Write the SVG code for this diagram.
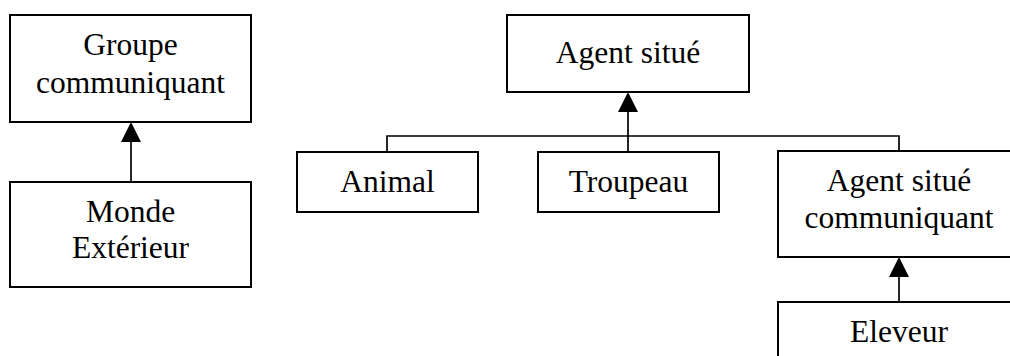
<svg xmlns="http://www.w3.org/2000/svg" width="1010" height="356" viewBox="0 0 1010 356">
  <style>
    .box { fill: #fff; stroke: #000; stroke-width: 2; }
    .lbl { font-family: "Liberation Serif", "Times New Roman", serif; font-size: 31.5px; fill: #000; text-anchor: middle; }
    .link { fill: none; stroke: #000; stroke-width: 1.7; }
    .head { fill: #000; stroke: none; }
  </style>
  <rect width="1010" height="356" fill="#fff"/>

  <!-- inheritance links -->
  <g id="connectors">
    <line class="link" x1="131" y1="182" x2="131" y2="140"/>
    <polygon class="head" points="131,122 121,142 141,142"/>

    <polyline class="link" points="387,152 387,136 899,136 899,151"/>
    <line class="link" x1="628" y1="152" x2="628" y2="110"/>
    <polygon class="head" points="628,92 618,112 638,112"/>

    <line class="link" x1="899" y1="302" x2="899" y2="275"/>
    <polygon class="head" points="899,257 889,277 909,277"/>
  </g>

  <g id="groupe-communiquant">
    <rect class="box" x="10" y="15" width="241" height="107"/>
    <text class="lbl" x="130.5" y="55">Groupe</text>
    <text class="lbl" x="130.5" y="93">communiquant</text>
  </g>

  <g id="monde-exterieur">
    <rect class="box" x="10" y="182" width="241" height="105"/>
    <text class="lbl" x="130.5" y="222">Monde</text>
    <text class="lbl" x="130.5" y="258">Extérieur</text>
  </g>

  <g id="agent-situe">
    <rect class="box" x="507" y="15" width="242" height="77"/>
    <text class="lbl" x="628" y="63">Agent situé</text>
  </g>

  <g id="animal">
    <rect class="box" x="297" y="152" width="181" height="60"/>
    <text class="lbl" x="387.5" y="192">Animal</text>
  </g>

  <g id="troupeau">
    <rect class="box" x="538" y="152" width="181" height="60"/>
    <text class="lbl" x="628.5" y="192">Troupeau</text>
  </g>

  <g id="agent-situe-communiquant">
    <rect class="box" x="778" y="151" width="240" height="106"/>
    <text class="lbl" x="899" y="191">Agent situé</text>
    <text class="lbl" x="899" y="228">communiquant</text>
  </g>

  <g id="eleveur">
    <rect class="box" x="778" y="302" width="240" height="70"/>
    <text class="lbl" x="899" y="342">Eleveur</text>
  </g>
</svg>
